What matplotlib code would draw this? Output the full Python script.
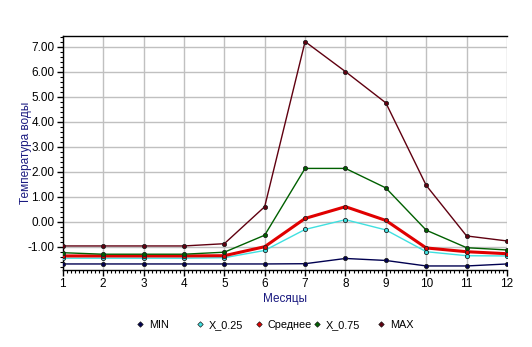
import numpy as np
import matplotlib.pyplot as plt
from matplotlib.ticker import MultipleLocator, FormatStrFormatter

plt.rcParams['font.family'] = ['Liberation Sans', 'DejaVu Sans']

months = list(range(1, 13))

t_min = [-1.69, -1.69, -1.69, -1.69, -1.69, -1.69, -1.68, -1.47, -1.55, -1.77, -1.77, -1.69]
t_q25 = [-1.46, -1.46, -1.46, -1.46, -1.44, -1.15, -0.31, 0.08, -0.33, -1.20, -1.36, -1.37]
t_mean = [-1.37, -1.37, -1.37, -1.37, -1.36, -1.00, 0.13, 0.60, 0.05, -1.05, -1.20, -1.28]
t_q75 = [-1.24, -1.30, -1.30, -1.30, -1.22, -0.54, 2.13, 2.13, 1.35, -0.34, -1.04, -1.13]
t_max = [-0.97, -0.97, -0.97, -0.97, -0.88, 0.60, 7.20, 6.00, 4.75, 1.45, -0.57, -0.77]

series = [
    ("MIN", t_min, "#000050", 1.0),
    ("X_0.25", t_q25, "#40e0e0", 1.0),
    ("Среднее", t_mean, "#e00000", 2.2),
    ("X_0.75", t_q75, "#006000", 1.0),
    ("MAX", t_max, "#600010", 1.0),
]
# left edge of each legend entry (figure fraction)
legend_x = [0.257, 0.370, 0.481, 0.590, 0.710]

fig = plt.figure(figsize=(5.32, 3.47), dpi=100)
ax = fig.add_axes([0.118, 0.222, 0.835, 0.674])

for name, vals, col, lw in series:
    ax.plot(months, vals, color=col, lw=lw, marker='o', ms=3.0,
            mfc=col, mec='#202020', mew=0.6, label=name, zorder=3)

ax.set_xlim(1, 12)
ax.set_ylim(-1.93, 7.42)
ax.xaxis.set_major_locator(MultipleLocator(1))
ax.xaxis.set_minor_locator(MultipleLocator(0.1))
ax.yaxis.set_minor_locator(MultipleLocator(0.2))
ax.yaxis.set_major_formatter(FormatStrFormatter('%.2f'))
ax.set_yticks(np.arange(-1, 8, 1))

ax.grid(True, which='major', color='#c0c0c0', lw=1.0, zorder=0)
ax.tick_params(axis='both', which='major', direction='out', length=4, width=1,
               labelsize=8.5, pad=2)
ax.tick_params(axis='both', which='minor', direction='out', length=2, width=0.8)
for side in ['left', 'bottom', 'top']:
    ax.spines[side].set_color('black')
    ax.spines[side].set_linewidth(1.0)
ax.spines['right'].set_visible(False)

ax.set_xlabel("Месяцы", color='#1a1a80', fontsize=8.5, labelpad=2)
ax.set_ylabel("Температура воды", color='#1a1a80', fontsize=8.5)
ax.yaxis.set_label_coords(-0.07, 0.5)

for (name, vals, col, lw), x0 in zip(series, legend_x):
    h = plt.Line2D([], [], ls='none', marker='D', ms=2.8, color=col, mec='#202020', mew=0.5)
    fig.legend([h], [name], loc='center left', bbox_to_anchor=(x0, 0.063),
               frameon=False, fontsize=7.8, handlelength=0.6, handletextpad=0.5,
               borderpad=0, borderaxespad=0)

fig.savefig("out.png", dpi=100)
